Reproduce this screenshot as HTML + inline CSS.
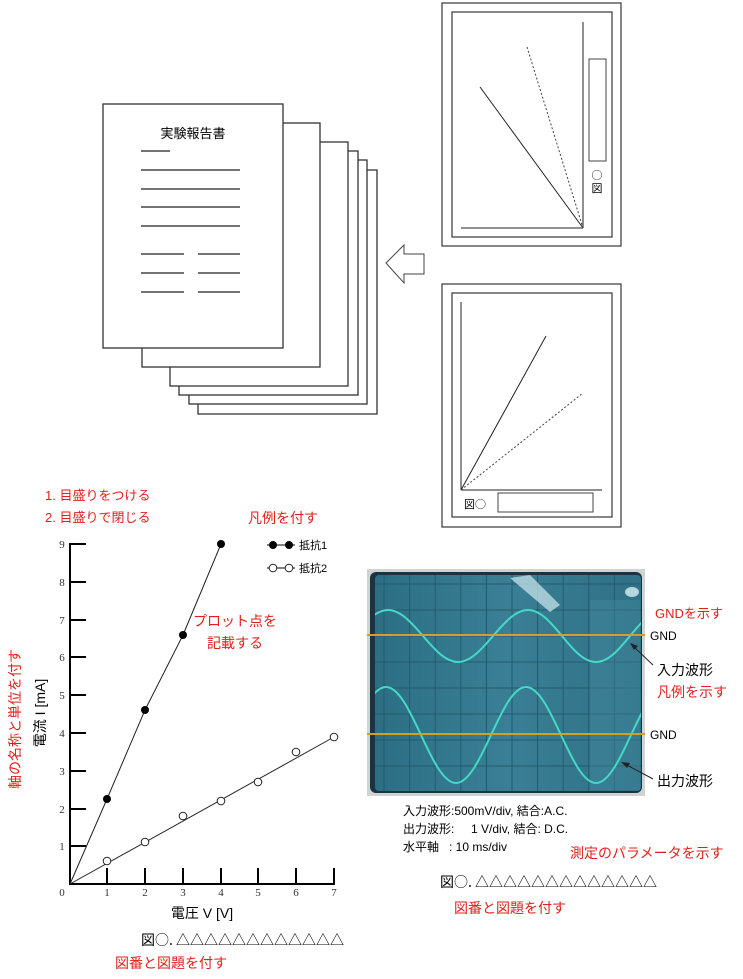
<!DOCTYPE html>
<html><head><meta charset="utf-8"><style>
html,body{margin:0;padding:0;background:#fff;}
svg{display:block;}
text{font-family:"Liberation Sans","Noto Sans CJK JP",sans-serif;}
.j{font-family:"Noto Sans CJK JP",sans-serif;}
.r{fill:#e0201c;font-size:14px;}
.s{font-family:"Liberation Serif","Noto Serif CJK SC",serif;font-size:11px;fill:#333;}
</style></head><body>
<svg width="743" height="979" viewBox="0 0 743 979" xmlns="http://www.w3.org/2000/svg">
<!-- document stack -->
<g fill="#fff" stroke="#333" stroke-width="1.3">
<rect x="198" y="170" width="179" height="244"/>
<rect x="189" y="160" width="178" height="244"/>
<rect x="179" y="151" width="179" height="244"/>
<rect x="170" y="142" width="178" height="244"/>
<rect x="142" y="123" width="178" height="244"/>
<rect x="103" y="104" width="180" height="244"/>
</g>
<text x="193" y="138" font-size="13" text-anchor="middle">実験報告書</text>
<g stroke="#222" stroke-width="1.2">
<line x1="141" y1="151" x2="170" y2="151"/>
<line x1="141" y1="170" x2="240" y2="170"/>
<line x1="141" y1="189" x2="240" y2="189"/>
<line x1="141" y1="207" x2="240" y2="207"/>
<line x1="141" y1="226" x2="240" y2="226"/>
<line x1="141" y1="254" x2="184" y2="254"/><line x1="198" y1="254" x2="240" y2="254"/>
<line x1="141" y1="273" x2="184" y2="273"/><line x1="198" y1="273" x2="240" y2="273"/>
<line x1="141" y1="292" x2="184" y2="292"/><line x1="198" y1="292" x2="240" y2="292"/>
</g>
<!-- arrow -->
<polygon points="386,263 404,245 404,254 424,254 424,274 404,274 404,283" fill="#fff" stroke="#444" stroke-width="1"/>
<!-- top frame -->
<rect x="442" y="3" width="179" height="243" fill="#fff" stroke="#444" stroke-width="1.3"/>
<rect x="452" y="12" width="160" height="225" fill="#fff" stroke="#444" stroke-width="1.3"/>
<line x1="583" y1="22" x2="583" y2="228" stroke="#222"/>
<line x1="461" y1="228" x2="583" y2="228" stroke="#222"/>
<line x1="480" y1="87" x2="583" y2="228" stroke="#222"/>
<line x1="527" y1="47" x2="583" y2="228" stroke="#444" stroke-dasharray="2,2"/>
<rect x="589" y="59" width="17" height="102" fill="#fff" stroke="#444"/>
<text x="597" y="179" font-size="11" text-anchor="middle" class="j">○</text>
<text x="597" y="192" font-size="11" text-anchor="middle" class="j">図</text>
<!-- bottom frame -->
<rect x="442" y="284" width="179" height="243" fill="#fff" stroke="#444" stroke-width="1.3"/>
<rect x="452" y="293" width="160" height="224" fill="#fff" stroke="#444" stroke-width="1.3"/>
<line x1="461" y1="302" x2="461" y2="490" stroke="#222"/>
<line x1="461" y1="490" x2="602" y2="490" stroke="#222"/>
<line x1="461" y1="490" x2="546" y2="336" stroke="#222"/>
<line x1="461" y1="490" x2="583" y2="393" stroke="#444" stroke-dasharray="2,2"/>
<text x="464" y="508" font-size="11" class="j">図○</text>
<rect x="498" y="493" width="95" height="19" fill="#fff" stroke="#444"/>

<!-- graph -->
<text x="45" y="500" class="r" style="font-size:13px">1. 目盛りをつける</text>
<text x="45" y="522" class="r" style="font-size:13px">2. 目盛りで閉じる</text>
<text x="283" y="523" class="r" text-anchor="middle">凡例を付す</text>
<g stroke="#000" stroke-width="2">
<line x1="70" y1="543" x2="70" y2="885"/>
<line x1="69" y1="884" x2="335" y2="884"/>
</g>
<g stroke="#000" stroke-width="2">
<line x1="70" y1="544" x2="86" y2="544"/><line x1="70" y1="582" x2="86" y2="582"/>
<line x1="70" y1="620" x2="86" y2="620"/><line x1="70" y1="657" x2="86" y2="657"/>
<line x1="70" y1="695" x2="86" y2="695"/><line x1="70" y1="733" x2="86" y2="733"/>
<line x1="70" y1="771" x2="86" y2="771"/><line x1="70" y1="809" x2="86" y2="809"/>
<line x1="70" y1="846" x2="86" y2="846"/>
<line x1="107" y1="868" x2="107" y2="884"/><line x1="145" y1="868" x2="145" y2="884"/>
<line x1="183" y1="868" x2="183" y2="884"/><line x1="221" y1="868" x2="221" y2="884"/>
<line x1="258" y1="868" x2="258" y2="884"/><line x1="296" y1="868" x2="296" y2="884"/>
<line x1="334" y1="868" x2="334" y2="884"/>
</g>
<g text-anchor="middle">
<text x="62" y="548" class="s">9</text><text x="62" y="586" class="s">8</text>
<text x="62" y="624" class="s">7</text><text x="62" y="661" class="s">6</text>
<text x="62" y="699" class="s">5</text><text x="62" y="737" class="s">4</text>
<text x="62" y="775" class="s">3</text><text x="62" y="813" class="s">2</text>
<text x="62" y="850" class="s">1</text><text x="62" y="896" class="s">0</text>
<text x="107" y="896" class="s">1</text><text x="145" y="896" class="s">2</text>
<text x="183" y="896" class="s">3</text><text x="221" y="896" class="s">4</text>
<text x="258" y="896" class="s">5</text><text x="296" y="896" class="s">6</text>
<text x="334" y="896" class="s">7</text>
</g>
<polyline points="70,884 107,799 145,710 183,635 221,544" fill="none" stroke="#222" stroke-width="1"/>
<line x1="70" y1="884" x2="334" y2="737" stroke="#222" stroke-width="1"/>
<g fill="#000">
<circle cx="107" cy="799" r="4"/><circle cx="145" cy="710" r="4"/>
<circle cx="183" cy="635" r="4"/><circle cx="221" cy="544" r="4"/>
</g>
<g fill="#fff" stroke="#222" stroke-width="1">
<circle cx="107" cy="861" r="3.8"/><circle cx="145" cy="842" r="3.8"/>
<circle cx="183" cy="816" r="3.8"/><circle cx="221" cy="801" r="3.8"/>
<circle cx="258" cy="782" r="3.8"/><circle cx="296" cy="752" r="3.8"/>
<circle cx="334" cy="737" r="3.8"/>
</g>
<line x1="267" y1="545" x2="295" y2="545" stroke="#000"/>
<circle cx="273" cy="545" r="4"/><circle cx="289" cy="545" r="4"/>
<text x="299" y="549" font-size="11">抵抗1</text>
<line x1="267" y1="568" x2="295" y2="568" stroke="#000"/>
<circle cx="273" cy="568" r="3.8" fill="#fff" stroke="#222"/><circle cx="289" cy="568" r="3.8" fill="#fff" stroke="#222"/>
<text x="299" y="572" font-size="11">抵抗2</text>
<text x="235" y="626" class="r" text-anchor="middle">プロット点を</text>
<text x="235" y="648" class="r" text-anchor="middle">記載する</text>
<text transform="translate(45,713) rotate(-90)" font-size="14" text-anchor="middle">電流 I [mA]</text>
<text transform="translate(20,719) rotate(-90)" class="r" text-anchor="middle">軸の名称と単位を付す</text>
<text x="202" y="918" font-size="14" text-anchor="middle">電圧 V [V]</text>
<text x="141" y="945" font-size="14" class="j">図○. △△△△△△△△△△△△</text>
<text x="115" y="968" class="r">図番と図題を付す</text>

<!-- oscilloscope photo -->
<defs>
<clipPath id="sc"><rect x="375" y="575" width="266" height="216"/></clipPath>
<linearGradient id="g1" x1="0" y1="0" x2="1" y2="0">
<stop offset="0" stop-color="#2c6f85"/><stop offset="0.5" stop-color="#3a7f95"/><stop offset="1" stop-color="#2f7187"/>
</linearGradient>
</defs>
<rect x="367" y="569" width="278" height="227" fill="#cfd3d3"/>
<rect x="370" y="572" width="272" height="221" rx="6" fill="#1c3442"/>
<rect x="375" y="575" width="266" height="216" rx="4" fill="url(#g1)"/>
<g stroke="#235a6d" stroke-width="1" clip-path="url(#sc)">
<line x1="384" y1="575" x2="384" y2="791"/><line x1="409.6" y1="575" x2="409.6" y2="791"/>
<line x1="435.2" y1="575" x2="435.2" y2="791"/><line x1="460.8" y1="575" x2="460.8" y2="791"/>
<line x1="486.4" y1="575" x2="486.4" y2="791"/><line x1="512" y1="575" x2="512" y2="791"/>
<line x1="537.6" y1="575" x2="537.6" y2="791"/><line x1="563.2" y1="575" x2="563.2" y2="791"/>
<line x1="588.8" y1="575" x2="588.8" y2="791"/><line x1="614.4" y1="575" x2="614.4" y2="791"/>
<line x1="375" y1="584" x2="641" y2="584"/><line x1="375" y1="610" x2="641" y2="610"/>
<line x1="375" y1="636" x2="641" y2="636"/><line x1="375" y1="662" x2="641" y2="662"/>
<line x1="375" y1="688" x2="641" y2="688"/><line x1="375" y1="714" x2="641" y2="714"/>
<line x1="375" y1="740" x2="641" y2="740"/><line x1="375" y1="766" x2="641" y2="766"/>
</g>
<path d="M510,578 L530,575 L560,605 L550,612 Z" fill="#cfe9ee" opacity="0.7" clip-path="url(#sc)"/>
<rect x="590" y="600" width="50" height="190" fill="#4a8ea2" opacity="0.35"/>
<ellipse cx="632" cy="592" rx="7" ry="5" fill="#d8f0f4" opacity="0.8"/>
<g fill="none" stroke="#45d9c8" stroke-width="2" clip-path="url(#sc)">
<path d="M318,662 C343.2,662 362.8,610 388,610 C413.2,610 432.8,662 458,662 C483.2,662 502.8,610 528,610 C553.2,610 570.8,662 596,662 C621.2,662 638.8,610 664,610"/>
<path d="M316,783 C341.2,783 360.8,687 386,687 C411.2,687 430.8,783 456,783 C481.2,783 500.8,687 526,687 C551.2,687 570.8,783 596,783 C621.2,783 640.8,687 666,687"/>
</g>
<line x1="367" y1="635" x2="645" y2="635" stroke="#d4a020" stroke-width="2"/>
<line x1="367" y1="734" x2="645" y2="734" stroke="#d4a020" stroke-width="2"/>
<text x="650" y="640" font-size="12">GND</text>
<text x="650" y="739" font-size="12">GND</text>
<text x="655" y="618" class="r" style="font-size:13px">GNDを示す</text>
<line x1="653" y1="665" x2="633" y2="646" stroke="#222"/>
<polygon points="630,643 638,646 634,650" fill="#222"/>
<line x1="653" y1="779" x2="625" y2="764" stroke="#222"/>
<polygon points="621,762 630,763 627,768" fill="#222"/>
<text x="657" y="675" font-size="14">入力波形</text>
<text x="657" y="697" class="r">凡例を示す</text>
<text x="657" y="786" font-size="14">出力波形</text>
<text x="403" y="815" font-size="12">入力波形:500mV/div, 結合:A.C.</text>
<text x="403" y="833" font-size="12">出力波形: &#160;&#160;&#160;&#160;1 V/div, 結合: D.C.</text>
<text x="403" y="851" font-size="12">水平軸 &#160;&#160;: 10 ms/div</text>
<text x="570" y="858" class="r">測定のパラメータを示す</text>
<text x="440" y="887" font-size="14" class="j">図○. △△△△△△△△△△△△△</text>
<text x="510" y="913" class="r" text-anchor="middle">図番と図題を付す</text>
</svg>
</body></html>
